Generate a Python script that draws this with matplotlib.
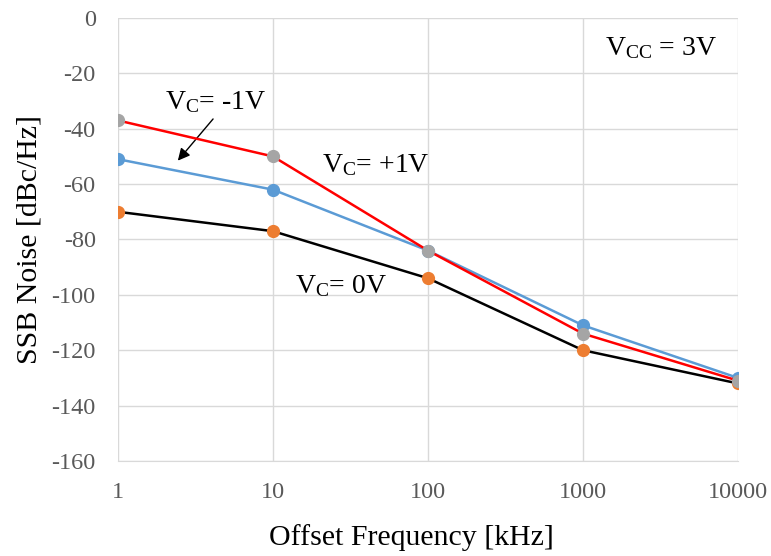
import numpy as np
import matplotlib
matplotlib.use("Agg")
import matplotlib.pyplot as plt

plt.rcParams['font.family'] = ['Liberation Serif', 'DejaVu Serif']
plt.rcParams['mathtext.fontset'] = 'custom'
plt.rcParams['mathtext.rm'] = 'Liberation Serif'
plt.rcParams['mathtext.it'] = 'Liberation Serif:italic'
plt.rcParams['axes.unicode_minus'] = False

freq = [1, 10, 100, 1000, 10000]
vc_plus1 = [-37, -50, -84, -114, -131]
vc_minus1 = [-51, -62, -84, -111, -130]
vc_zero = [-70, -77, -94, -120, -132]

fig, ax = plt.subplots(figsize=(7.71, 5.56), dpi=100)
fig.subplots_adjust(left=0.153, right=0.957, top=0.9676, bottom=0.171)

ax.plot(freq, vc_zero, color="black", lw=1.8, marker="o", ms=8.5,
        mfc="#ED7D31", mec="#ED7D31", zorder=3)
ax.plot(freq, vc_minus1, color="#5B9BD5", lw=1.8, marker="o", ms=8.5,
        mfc="#5B9BD5", mec="#5B9BD5", zorder=4)
ax.plot(freq, vc_plus1, color="#FF0000", lw=1.8, marker="o", ms=8.5,
        mfc="#A5A5A5", mec="#A5A5A5", zorder=5)

ax.set_xscale("log")
ax.set_xlim(1, 10000)
ax.set_ylim(-160, 0)
ax.set_xticks(freq)
ax.set_xticklabels(["1", "10", "100", "1000", "10000"])
ax.set_yticks(np.arange(-160, 1, 20))
ax.minorticks_off()
ax.grid(True, color="#D9D9D9", lw=1.0)
ax.set_axisbelow(True)
for s in ["top", "right", "left"]:
    ax.spines[s].set_visible(False)
ax.spines["bottom"].set_color("#D9D9D9")
ax.tick_params(length=0, labelsize=17.5, colors="#595959")
ax.tick_params(axis="y", pad=16)
ax.tick_params(axis="x", pad=15)

ax.set_ylabel("SSB Noise [dBc/Hz]", fontsize=21.5, labelpad=6.5)
ax.set_xlabel("Offset Frequency [kHz]", fontsize=21.5, labelpad=15)
ax.xaxis.label.set_x(0.474)

fs = 20
ax.text(2.01, -30.3, r"V$_\mathregular{C}$= -1V", fontsize=fs, ha="left", va="center")
ax.annotate("", xy=(2.37, -52.3), xytext=(4.22, -35.7),
            arrowprops=dict(arrowstyle="-|>", color="black", lw=1, mutation_scale=18))
ax.text(20.7, -53, r"V$_\mathregular{C}$= +1V", fontsize=fs, ha="left", va="center")
ax.text(13.9, -97, r"V$_\mathregular{C}$= 0V", fontsize=fs, ha="left", va="center")
ax.text(1387, -10.8, r"V$_\mathregular{CC}$ = 3V", fontsize=fs, ha="left", va="center")

fig.savefig("out.png", dpi=100)
